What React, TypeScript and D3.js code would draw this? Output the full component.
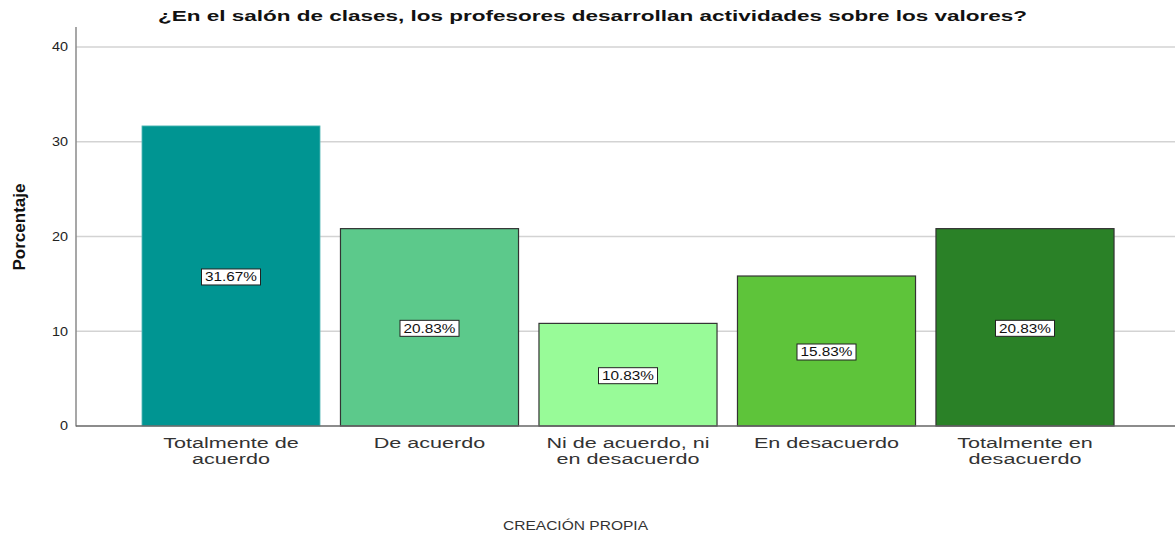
import React from "react";
import * as d3 from "d3";

const categories = [
  ["Totalmente de", "acuerdo"],
  ["De acuerdo"],
  ["Ni de acuerdo, ni", "en desacuerdo"],
  ["En desacuerdo"],
  ["Totalmente en", "desacuerdo"],
];
const values = [31.67, 20.83, 10.83, 15.83, 20.83];
const colors = ["#009592", "#5cc98b", "#98fb98", "#5ec43a", "#2a8127"];
const yTicks = [0, 10, 20, 30, 40];

const W = 1175;
const H = 537;

export default function App() {
  const keys = categories.map((c) => c.join(" "));
  const x = d3
    .scaleBand<string>()
    .domain(keys)
    .range([131.75, 1124.25])
    .paddingInner(0.103)
    .paddingOuter(0.0515);
  const y = d3.scaleLinear().domain([0, 40]).range([426, 47]);
  const font = "Arial, 'Liberation Sans', sans-serif";

  return (
    <svg
      width={W}
      height={H}
      style={{ position: "absolute", left: 0, top: 0, background: "#fff" }}
      fontFamily={font}
    >
      <text
        x={592.5}
        y={21}
        textAnchor="middle"
        fontSize={15}
        fontWeight="bold"
        fill="#111"
        textLength={869}
        lengthAdjust="spacingAndGlyphs"
      >
        ¿En el salón de clases, los profesores desarrollan actividades sobre los valores?
      </text>
      {yTicks.slice(1).map((t) => (
        <line key={t} x1={76} x2={W} y1={y(t)} y2={y(t)} stroke="#d3d3d3" strokeWidth={1.3} />
      ))}
      {yTicks.map((t) => (
        <text
          key={t}
          transform={`translate(68,${y(t)}) scale(1.2,1)`}
          dy="0.36em"
          textAnchor="end"
          fontSize={12}
          fill="#222"
        >
          {t}
        </text>
      ))}
      <line x1={76} x2={76} y1={27} y2={426.5} stroke="#8a8a8a" strokeWidth={1.5} />
      {values.map((v, i) => {
        const bx = x(keys[i])!;
        const bw = x.bandwidth();
        return (
          <rect
            key={i}
            x={bx}
            y={y(v)}
            width={bw}
            height={y(0) - y(v)}
            fill={colors[i]}
            stroke={i === 0 ? "#5ebdbb" : "#333"}
            strokeWidth={i === 0 ? 0.8 : 1.2}
          />
        );
      })}
      <line x1={76} x2={W} y1={426} y2={426} stroke="#666" strokeWidth={1.3} />
      {values.map((v, i) => {
        const cx = x(keys[i])! + x.bandwidth() / 2;
        const cy = (y(v) + y(0)) / 2 + 1;
        return (
          <g key={i}>
            <rect x={cx - 29.5} y={cy - 8} width={59} height={16} fill="#fff" stroke="#222" strokeWidth={1} />
            <text
              x={cx}
              y={cy}
              dy="0.37em"
              textAnchor="middle"
              fontSize={12}
              fill="#111"
              textLength={52}
              lengthAdjust="spacingAndGlyphs"
            >
              {v.toFixed(2)}%
            </text>
          </g>
        );
      })}
      {categories.map((lines, i) => {
        const cx = x(keys[i])! + x.bandwidth() / 2;
        return (
          <text
            key={i}
            transform={`translate(${cx},0) scale(1.44,1)`}
            textAnchor="middle"
            fontSize={15}
            fill="#333"
          >
            {lines.map((l, j) => (
              <tspan key={j} x={0} y={448.5 + j * 16}>
                {l}
              </tspan>
            ))}
          </text>
        );
      })}
      <text
        transform={`translate(25,227) rotate(-90)`}
        textAnchor="middle"
        fontSize={16}
        fontWeight="bold"
        fill="#111"
        textLength={87}
        lengthAdjust="spacingAndGlyphs"
      >
        Porcentaje
      </text>
      <text
        x={575.5}
        y={530}
        textAnchor="middle"
        fontSize={13}
        fill="#333"
        textLength={145}
        lengthAdjust="spacingAndGlyphs"
      >
        CREACIÓN PROPIA
      </text>
    </svg>
  );
}
